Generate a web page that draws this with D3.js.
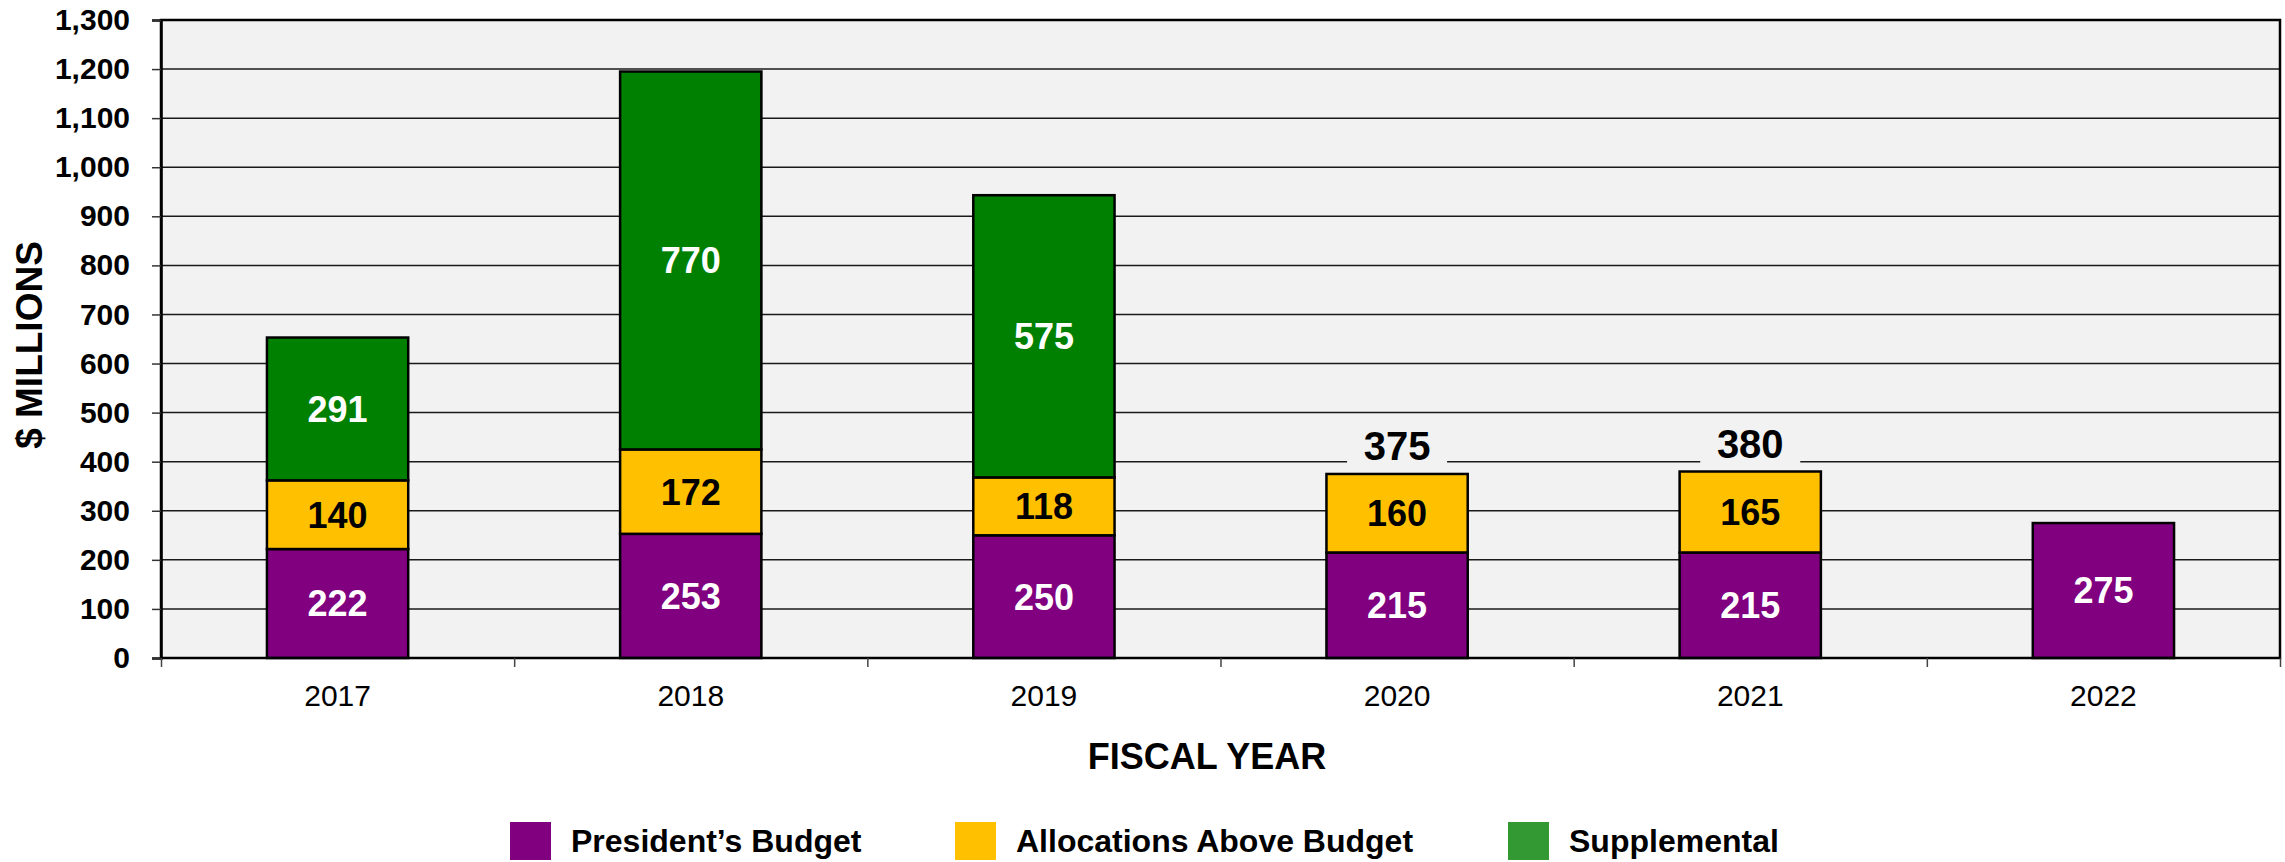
<!DOCTYPE html>
<html>
<head>
<meta charset="utf-8">
<script src="https://cdn.jsdelivr.net/npm/d3@7"></script>
<style>
  body { margin: 0; background: #fff; }
  svg { display: block; font-family: "Liberation Sans", Arial, sans-serif; }
</style>
</head>
<body>
<div id="chart"></div>
<script>
const years = ['2017', '2018', '2019', '2020', '2021', '2022']
const presidentsBudget = [222, 253, 250, 215, 215, 275]
const aboveBudget = [140, 172, 118, 160, 165, 0]
const supplemental = [291, 770, 575, 0, 0, 0]
const totalLabels = [null, null, null, 375, 380, null]
const yTicks = [0, 100, 200, 300, 400, 500, 600, 700, 800, 900, 1000, 1100, 1200, 1300]
const seriesNames = ['President\u2019s Budget', 'Allocations Above Budget', 'Supplemental']

const width = 2285
const height = 862
const plotLeft = 161
const plotRight = 2280
const plotTop = 20
const plotBottom = 658

const barColors = ['#800080', '#FFC000', '#008000']
const legendColors = ['#800080', '#FFC000', '#339933']
const labelColors = ['#fff', '#000', '#fff']

const rows = years.map((y, i) => ({
  year: y,
  pb: presidentsBudget[i],
  ab: aboveBudget[i],
  sup: supplemental[i]
}))
const stack = d3.stack().keys(['pb', 'ab', 'sup'])(rows)

const x = d3.scaleBand()
  .domain(years)
  .range([plotLeft, plotRight])
  .paddingInner(0.6)
  .paddingOuter(0.3)

const y = d3.scaleLinear()
  .domain([0, 1300])
  .range([plotBottom, plotTop])

const svg = d3.select('#chart').append('svg')
  .attr('width', width)
  .attr('height', height)

// plot background
svg.append('rect')
  .attr('x', plotLeft).attr('y', plotTop)
  .attr('width', plotRight - plotLeft).attr('height', plotBottom - plotTop)
  .attr('fill', '#F2F2F2')

// gridlines
svg.append('g')
  .selectAll('line')
  .data(yTicks.filter(d => d > 0 && d < 1300))
  .join('line')
  .attr('x1', plotLeft).attr('x2', plotRight)
  .attr('y1', d => y(d)).attr('y2', d => y(d))
  .attr('stroke', '#1a1a1a')
  .attr('stroke-width', 1.5)

// bars
const layers = svg.append('g')
  .selectAll('g')
  .data(stack)
  .join('g')
  .attr('fill', (d, i) => barColors[i])

layers.selectAll('rect')
  .data(d => d.filter(s => s[1] - s[0] > 0))
  .join('rect')
  .attr('x', d => x(d.data.year))
  .attr('width', x.bandwidth())
  .attr('y', d => y(d[1]))
  .attr('height', d => y(d[0]) - y(d[1]))
  .attr('stroke', '#000')
  .attr('stroke-width', 2.5)

// value labels inside segments
stack.forEach((layer, li) => {
  svg.append('g')
    .selectAll('text')
    .data(layer.filter(s => s[1] - s[0] > 0))
    .join('text')
    .attr('x', d => x(d.data.year) + x.bandwidth() / 2)
    .attr('y', d => y((d[0] + d[1]) / 2))
    .attr('dy', '0.36em')
    .attr('text-anchor', 'middle')
    .attr('font-size', 36)
    .attr('font-weight', 'bold')
    .attr('fill', labelColors[li])
    .text(d => d[1] - d[0])
})

// total labels with background box
const totals = svg.append('g')
  .selectAll('g')
  .data(years.map((yr, i) => ({ year: yr, v: totalLabels[i] })).filter(d => d.v !== null))
  .join('g')
  .attr('transform', d => `translate(${x(d.year) + x.bandwidth() / 2},${y(d.v) - 28})`)

totals.append('rect')
  .attr('x', -50).attr('y', -22)
  .attr('width', 100).attr('height', 44)
  .attr('fill', '#F2F2F2')

totals.append('text')
  .attr('text-anchor', 'middle')
  .attr('dy', '0.36em')
  .attr('font-size', 40)
  .attr('font-weight', 'bold')
  .attr('fill', '#000')
  .text(d => d.v)

// plot border
svg.append('rect')
  .attr('x', plotLeft).attr('y', plotTop)
  .attr('width', plotRight - plotLeft).attr('height', plotBottom - plotTop)
  .attr('fill', 'none')
  .attr('stroke', '#000')
  .attr('stroke-width', 2.5)

// y axis
const yAxis = svg.append('g')
  .attr('transform', `translate(${plotLeft},0)`)
  .call(d3.axisLeft(y).tickValues(yTicks).tickSize(9).tickPadding(22).tickFormat(d3.format(',')))
yAxis.select('.domain').attr('stroke', '#000').attr('stroke-width', 2.5)
yAxis.selectAll('.tick line').attr('stroke', '#333').attr('stroke-width', 1.5)
yAxis.selectAll('text')
  .attr('font-size', 30)
  .attr('font-weight', 'bold')
  .attr('fill', '#000')
  .attr('font-family', '"Liberation Sans", Arial, sans-serif')

// x axis category boundary ticks
const xb = d3.scaleLinear().domain([0, years.length]).range([plotLeft, plotRight])
const xTickAxis = svg.append('g')
  .attr('transform', `translate(0,${plotBottom})`)
  .call(d3.axisBottom(xb).ticks(years.length).tickSize(9).tickFormat(''))
xTickAxis.select('.domain').remove()
xTickAxis.selectAll('.tick line').attr('stroke', '#444').attr('stroke-width', 1.5)

// x axis labels
const xAxis = svg.append('g')
  .attr('transform', `translate(0,${plotBottom})`)
  .call(d3.axisBottom(x).tickSize(0).tickPadding(27))
xAxis.select('.domain').remove()
xAxis.selectAll('text')
  .attr('font-size', 30)
  .attr('fill', '#000')
  .attr('font-family', '"Liberation Sans", Arial, sans-serif')

// axis titles
svg.append('text')
  .attr('transform', `translate(29,${(plotTop + plotBottom) / 2 + 6}) rotate(-90)`)
  .attr('text-anchor', 'middle')
  .attr('dy', '0.36em')
  .attr('font-size', 37)
  .attr('font-weight', 'bold')
  .text('$ MILLIONS')

svg.append('text')
  .attr('x', 1207)
  .attr('y', 756)
  .attr('dy', '0.36em')
  .attr('text-anchor', 'middle')
  .attr('font-size', 36)
  .attr('font-weight', 'bold')
  .text('FISCAL YEAR')

// legend
const legendX = [510, 955, 1508]
const legend = svg.append('g')
  .selectAll('g')
  .data(seriesNames)
  .join('g')
  .attr('transform', (d, i) => `translate(${legendX[i]},822)`)

legend.append('rect')
  .attr('width', 41).attr('height', 38)
  .attr('fill', (d, i) => legendColors[i])

legend.append('text')
  .attr('x', 61)
  .attr('y', 18)
  .attr('dy', '0.36em')
  .attr('font-size', 32)
  .attr('font-weight', 'bold')
  .text(d => d)
</script>
</body>
</html>
